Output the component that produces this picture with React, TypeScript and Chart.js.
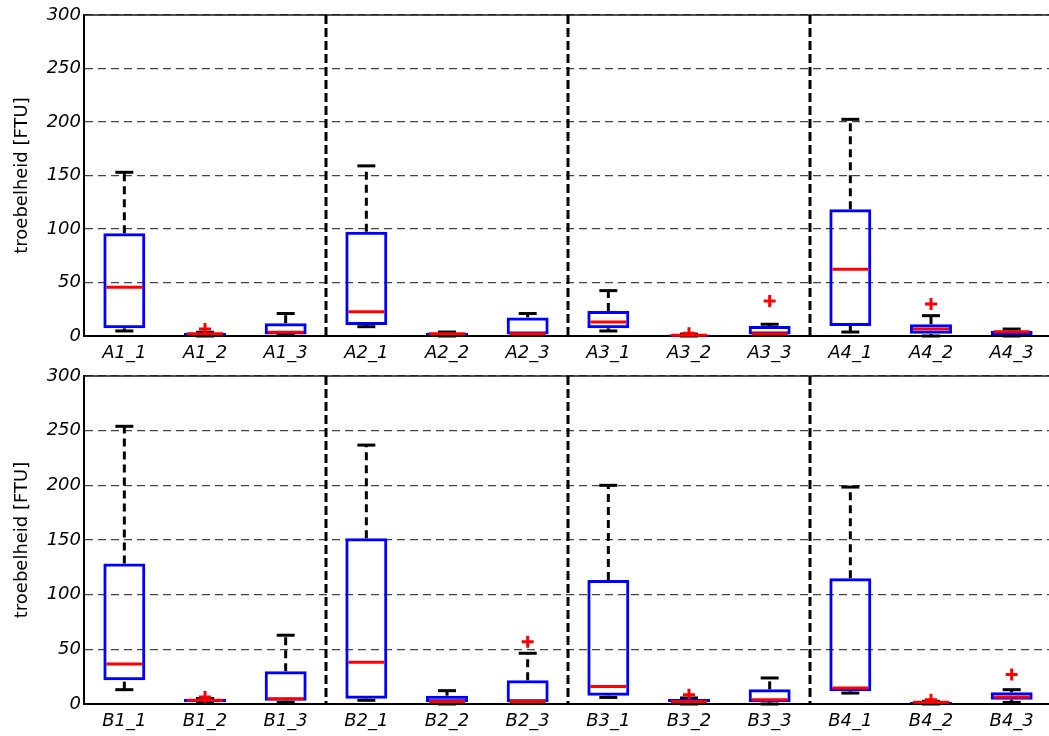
import React, { useEffect, useRef } from 'react';
import { Chart, registerables } from 'chart.js';

Chart.register(...registerables);

// Turbidity box plots per sampling point, two panels (A and B series)
const categoriesA = ['A1_1', 'A1_2', 'A1_3', 'A2_1', 'A2_2', 'A2_3', 'A3_1', 'A3_2', 'A3_3', 'A4_1', 'A4_2', 'A4_3'];
const lowA = [4.7, 0, 1, 8.7, 0, 1, 4.7, 0, 0.5, 3.7, 0, 0];
const q1A = [7.2, 1, 1.5, 10.3, 1, 1.5, 7.2, 0.3, 1.5, 9.3, 2, 1];
const medianA = [45.5, 2, 3.5, 22.7, 2, 2, 13, 0.8, 2, 62.3, 6.5, 4];
const q3A = [96, 3, 12, 97.5, 3, 17.4, 23.4, 1.5, 9.3, 118.4, 11, 5];
const highA = [153, 3.5, 21, 159, 3.7, 21, 42.4, 1.8, 11, 202.5, 19, 6.5];
const outlierA = [null, 6.5, null, null, null, null, null, 2.5, 32.7, null, 30, null];

const categoriesB = ['B1_1', 'B1_2', 'B1_3', 'B2_1', 'B2_2', 'B2_3', 'B3_1', 'B3_2', 'B3_3', 'B4_1', 'B4_2', 'B4_3'];
const lowB = [13.1, 1, 1.5, 3.4, 0, 0.5, 6, 0, 0, 10, 0, 1.5];
const q1B = [21.7, 1.5, 3, 4.9, 1.5, 1.5, 7.6, 1.5, 1.5, 11.6, 0.5, 4];
const medianB = [36.6, 3.4, 4.9, 38.1, 2.4, 2.4, 15.9, 2.4, 4, 14.6, 1.5, 6.4];
const q3B = [128.5, 4.6, 29.9, 151.7, 7.6, 21.7, 113.5, 4.6, 13.4, 115, 2, 10.7];
const highB = [254, 5, 62.9, 236.8, 12.2, 46.4, 200, 5.5, 23.8, 198.4, 2.5, 13.1];
const outlierB = [null, 6.5, null, null, null, 57, null, 8.5, null, null, 4, 26.9];

// Group separators sit between the third and fourth box of each location
const groupBreaks = [2.5, 5.5, 8.5];

const yMin = 0;
const yMax = 300;
const yStep = 50;
const yTitle = 'troebelheid [FTU]';

const tickFont = { family: '"DejaVu Sans", sans-serif', size: 18, style: 'italic' as const };
const titleFont = { family: '"DejaVu Sans", sans-serif', size: 18 };

const boxWhiskerPlugin = {
  id: 'boxWhiskers',
  beforeDatasetsDraw(chart: any, _args: any, opts: any) {
    const { ctx, chartArea, scales } = chart;
    const x = scales.x;
    const y = scales.y;
    const line = (x1: number, y1: number, x2: number, y2: number) => {
      ctx.beginPath();
      ctx.moveTo(x1, y1);
      ctx.lineTo(x2, y2);
      ctx.stroke();
    };
    ctx.save();
    // solid frame line along the top edge
    ctx.strokeStyle = '#1a1a1a';
    ctx.lineWidth = 1.5;
    line(chartArea.left, chartArea.top, chartArea.right, chartArea.top);

    // dashed separators between location groups
    ctx.strokeStyle = '#000';
    ctx.lineWidth = 3;
    ctx.setLineDash([9, 4]);
    for (const b of opts.breaks) {
      const px = (x.getPixelForValue(Math.floor(b)) + x.getPixelForValue(Math.ceil(b))) / 2;
      line(px, chartArea.top, px, chartArea.bottom);
    }

    // dashed whiskers
    ctx.setLineDash([8, 5]);
    const n = opts.low.length;
    for (let i = 0; i < n; i++) {
      const cx = x.getPixelForValue(i);
      line(cx, y.getPixelForValue(opts.q3[i]), cx, y.getPixelForValue(opts.high[i]));
      line(cx, y.getPixelForValue(opts.low[i]), cx, y.getPixelForValue(opts.q1[i]));
    }

    // whisker caps
    ctx.setLineDash([]);
    const half = opts.capHalfWidth;
    for (let i = 0; i < n; i++) {
      const cx = x.getPixelForValue(i);
      const hy = y.getPixelForValue(opts.high[i]);
      const ly = y.getPixelForValue(opts.low[i]);
      line(cx - half, hy, cx + half, hy);
      line(cx - half, ly, cx + half, ly);
    }
    ctx.restore();
  },
  afterDatasetDraw(chart: any, args: any, opts: any) {
    if (args.index !== 0) return;
    const { ctx, scales } = chart;
    const y = scales.y;
    const meta = chart.getDatasetMeta(0);
    ctx.save();
    ctx.strokeStyle = '#ff0000';
    ctx.lineWidth = 3;
    meta.data.forEach((bar: any, i: number) => {
      const my = y.getPixelForValue(opts.median[i]);
      const w = bar.width / 2 - 3;
      ctx.beginPath();
      ctx.moveTo(bar.x - w, my);
      ctx.lineTo(bar.x + w, my);
      ctx.stroke();
    });
    ctx.restore();
  },
};

function makeConfig(
  labels: string[],
  low: number[],
  q1: number[],
  median: number[],
  q3: number[],
  high: number[],
  outliers: (number | null)[],
  topPad: number
): any {
  return {
    type: 'bar',
    data: {
      labels,
      datasets: [
        {
          type: 'bar',
          data: q1.map((v, i) => [v, q3[i]]),
          backgroundColor: 'rgba(0,0,0,0)',
          borderColor: '#0000ff',
          borderWidth: 3,
          borderSkipped: false,
          barPercentage: 0.52,
          categoryPercentage: 1,
        },
        {
          type: 'line',
          data: outliers,
          showLine: false,
          pointStyle: 'cross',
          pointRadius: 6,
          pointBorderWidth: 3,
          borderColor: '#ff0000',
          backgroundColor: '#ff0000',
        },
      ],
    },
    options: {
      responsive: false,
      animation: false,
      layout: { autoPadding: false, padding: { top: topPad, left: 0, right: 0, bottom: 0 } },
      plugins: {
        legend: { display: false },
        tooltip: { enabled: false },
        boxWhiskers: { low, q1, median, q3, high, breaks: groupBreaks, capHalfWidth: 9 },
      },
      scales: {
        x: {
          type: 'category',
          offset: true,
          grid: { display: false, drawTicks: false },
          border: { display: true, color: '#000', width: 2 },
          ticks: { font: tickFont, color: '#000', padding: 7, maxRotation: 0, autoSkip: false },
          afterFit(scale: any) {
            scale.height = 32;
            scale.paddingLeft = 0;
            scale.paddingRight = 0;
          },
        },
        y: {
          min: yMin,
          max: yMax,
          grid: { color: '#444', lineWidth: 1.3, drawTicks: false },
          border: { display: true, color: '#000', width: 2, dash: [8, 5] },
          ticks: { stepSize: yStep, font: tickFont, color: '#000', padding: 3 },
          title: { display: true, text: yTitle, font: titleFont, color: '#000', padding: { top: 12, bottom: 0 } },
          afterFit(scale: any) {
            scale.width = 84;
            scale.paddingTop = 0;
            scale.paddingBottom = 0;
          },
        },
      },
    },
    plugins: [boxWhiskerPlugin],
  };
}

function BoxPanel(props: { config: any; top: number }) {
  const ref = useRef<HTMLCanvasElement | null>(null);
  useEffect(() => {
    if (!ref.current) return;
    const chart = new Chart(ref.current, props.config);
    return () => chart.destroy();
  }, [props.config]);
  return (
    <canvas
      ref={ref}
      width={1052}
      height={368}
      style={{ position: 'absolute', left: 0, top: props.top, width: 1052, height: 368 }}
    />
  );
}

const configA = makeConfig(categoriesA, lowA, q1A, medianA, q3A, highA, outlierA, 15);
const configB = makeConfig(categoriesB, lowB, q1B, medianB, q3B, highB, outlierB, 8);

export default function App() {
  return (
    <div
      style={{
        position: 'absolute',
        left: 0,
        top: 0,
        width: 1049,
        height: 736,
        overflow: 'hidden',
        background: '#fff',
      }}
    >
      <BoxPanel config={configA} top={0} />
      <BoxPanel config={configB} top={368} />
    </div>
  );
}
